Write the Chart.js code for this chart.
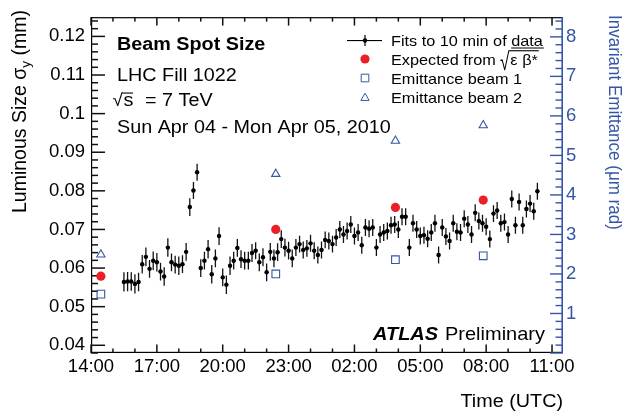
<!DOCTYPE html>
<html><head><meta charset="utf-8">
<script src="https://cdn.jsdelivr.net/npm/chart.js@4/dist/chart.umd.min.js"></script>
<style>html,body{margin:0;padding:0;background:#fff;overflow:hidden}canvas{display:block}</style>
</head><body>
<canvas id="c" width="624" height="413" style="width:624px;height:413px"></canvas>
<script>
// ---------------- data ----------------
const fitTimes = [
 "15:30","15:40","15:50",
 "16:00","16:10","16:20","16:30","16:40","16:50",
 "17:00","17:10","17:20","17:30","17:40","17:50",
 "18:00","18:10","18:20","18:30","18:40","18:50",
 "19:00","19:10","19:20","19:30","19:40","19:50",
 "20:00","20:10","20:20","20:30","20:40","20:50",
 "21:00","21:10","21:20","21:30","21:40","21:50",
 "22:00","22:10","22:20","22:30","22:40","22:50",
 "23:00","23:10","23:20","23:30","23:40","23:50",
 "00:00","00:10","00:20","00:30","00:40","00:50",
 "01:00","01:10","01:20","01:30","01:40","01:50",
 "02:00","02:10","02:20","02:30","02:40","02:50",
 "03:00","03:10","03:20","03:30","03:40","03:50",
 "04:00","04:10","04:20","04:30","04:40","04:50",
 "05:00","05:10","05:20","05:30","05:40","05:50",
 "06:00","06:10","06:20","06:30","06:40","06:50",
 "07:00","07:10","07:20","07:30","07:40","07:50",
 "08:00","08:10","08:20","08:30","08:40","08:50",
 "09:00","09:10","09:20","09:30","09:40","09:50",
 "10:00","10:10","10:20"
];
const fitSigma = [
 0.0564,0.0565,0.0565,0.0559,0.0564,0.0610,0.0629,0.0598,0.0619,0.0615,
 0.0591,0.0578,0.0653,0.0615,0.0609,0.0606,0.0610,0.0642,0.0758,0.0801,
 0.0848,0.0600,0.0619,0.0649,0.0584,0.0625,0.0683,0.0576,0.0557,0.0606,
 0.0619,0.0652,0.0623,0.0619,0.0619,0.0639,0.0645,0.0615,0.0628,0.0589,
 0.0642,0.0625,0.0641,0.0675,0.0653,0.0645,0.0625,0.0653,0.0662,0.0647,
 0.0651,0.0664,0.0645,0.0634,0.0647,0.0673,0.0670,0.0662,0.0679,0.0700,
 0.0687,0.0696,0.0713,0.0683,0.0692,0.0659,0.0705,0.0702,0.0705,0.0653,
 0.0687,0.0692,0.0696,0.0711,0.0713,0.0700,0.0733,0.0733,0.0653,0.0716,
 0.0700,0.0683,0.0685,0.0676,0.0692,0.0716,0.0634,0.0705,0.0682,0.0670,
 0.0716,0.0694,0.0692,0.0728,0.0713,0.0687,0.0743,0.0722,0.0716,0.0707,
 0.0675,0.0741,0.0749,0.0716,0.0719,0.0687,0.0779,0.0711,0.0771,0.0711,
 0.0753,0.0767,0.0747,0.0799
];
const fitSigmaErr = [
 0.0025,0.0025,0.0024,0.0025,0.0024,0.0024,0.0024,0.0023,0.0024,0.0024,
 0.0023,0.0024,0.0024,0.0023,0.0023,0.0024,0.0023,0.0023,0.0023,0.0022,
 0.0022,0.0023,0.0023,0.0024,0.0024,0.0023,0.0023,0.0023,0.0024,0.0024,
 0.0023,0.0023,0.0023,0.0023,0.0023,0.0023,0.0022,0.0023,0.0023,0.0023,
 0.0023,0.0023,0.0023,0.0023,0.0023,0.0023,0.0023,0.0022,0.0022,0.0022,
 0.0022,0.0022,0.0022,0.0022,0.0022,0.0022,0.0022,0.0022,0.0022,0.0022,
 0.0022,0.0022,0.0022,0.0022,0.0022,0.0022,0.0022,0.0022,0.0022,0.0022,
 0.0022,0.0022,0.0022,0.0022,0.0022,0.0022,0.0022,0.0022,0.0022,0.0022,
 0.0022,0.0022,0.0022,0.0022,0.0022,0.0022,0.0022,0.0022,0.0022,0.0022,
 0.0022,0.0022,0.0022,0.0022,0.0022,0.0022,0.0022,0.0022,0.0022,0.0022,
 0.0022,0.0022,0.0022,0.0022,0.0022,0.0022,0.0022,0.0022,0.0022,0.0022,
 0.0022,0.0022,0.0022,0.0022
];
const fitBinMinutes = 10;
const markerTimes = ["14:27","22:25","03:52","07:52"];
const expectedSigma = [0.0579, 0.0700, 0.0757, 0.0776];
const emittanceBeam1 = [1.49, 2.00, 2.36, 2.46];
const emittanceBeam2 = [2.49, 4.53, 5.37, 5.76];
const xTickLabels = ["14:00","17:00","20:00","23:00","02:00","05:00","08:00","11:00"];
const yTickLabels = ["0.04","0.05","0.06","0.07","0.08","0.09","0.1","0.11","0.12"];
const y2TickLabels = ["1","2","3","4","5","6","7","8"];
const legendLabels = ["Fits to 10 min of data","Expected from ","Emittance beam 1","Emittance beam 2"];

// ---------------- layout constants ----------------
const X_MIN = 0, X_MAX = 21.5;        // hours after 14:00
const Y_MIN = 0.038, Y_MAX = 0.125;    // mm
const Y2_MIN = 0, Y2_MAX = 8.5;        // um rad
const SX = 1.13;
const FONT = '"Liberation Sans", Arial, Helvetica, sans-serif';
const BLUE = '#3456a6';
const RED = '#ea1f27';
function toHours(s){const p=s.split(':');let t=+p[0]+(+p[1])/60-14;if(t<0)t+=24;return t;}

function sText(ctx,str,x,y,size,o={}){
  ctx.save();
  ctx.font=`${o.style||'normal'} ${o.weight||'normal'} ${size}px ${FONT}`;
  ctx.fillStyle=o.color||'#000';ctx.textBaseline='alphabetic';ctx.textAlign='left';
  const w=ctx.measureText(str).width*SX;
  const x0=x-(o.align==='right'?w:o.align==='center'?w/2:0);
  ctx.translate(x0,y);ctx.scale(SX,1);ctx.fillText(str,0,0);ctx.restore();
  return w;
}
function tw(ctx,str,size,o={}){ctx.save();ctx.font=`${o.style||'normal'} ${o.weight||'normal'} ${size}px ${FONT}`;const w=ctx.measureText(str).width*SX;ctx.restore();return w;}
function radical(ctx,x,top,bottom,width){
  ctx.save();ctx.font=`normal normal 100px ${FONT}`;ctx.textBaseline='alphabetic';ctx.textAlign='left';
  const m=ctx.measureText('\u221A');
  const asc=m.actualBoundingBoxAscent, des=m.actualBoundingBoxDescent;
  const bl=m.actualBoundingBoxLeft, br=m.actualBoundingBoxRight;
  const sy=(bottom-top)/(asc+des), sxx=width/(bl+br);
  ctx.fillStyle='#000';
  ctx.translate(x+bl*sxx, top+asc*sy);ctx.scale(sxx,sy);ctx.fillText('\u221A',0,0);
  ctx.restore();
}

function drawAxesTicks(chart){
  const ctx=chart.ctx, a=chart.chartArea, x=chart.scales.x, y=chart.scales.y;
  ctx.save();
  ctx.fillStyle='#000';
  ctx.fillRect(a.left,a.top,a.right-a.left,1.2);
  ctx.fillRect(a.left,a.bottom-1.2,a.right-a.left,1.2);
  ctx.fillRect(a.left,a.top,1.2,a.bottom-a.top);
  ctx.fillStyle='#111';
  for(let h=0;h<=21;h++){
    const px=x.getPixelForValue(h);
    const L=(h%3===0)?8.5:4.5;
    ctx.fillRect(px-0.75,a.bottom-L,1.5,L);
    ctx.fillRect(px-0.75,a.top,1.5,L);
  }
  for(let k=19;k<=62;k++){
    const py=y.getPixelForValue(k/500);
    const L=(k%5===0)?14:7;
    ctx.fillRect(a.left,py-0.75,L,1.5);
  }
  ctx.restore();
}

const framePlugin={
  id:'frame',
  beforeDatasetsDraw(chart){
    const ctx=chart.ctx, x=chart.scales.x, y=chart.scales.y;
    drawAxesTicks(chart);
    ctx.save();
    ctx.strokeStyle='#111';ctx.lineWidth=1.3;ctx.beginPath();
    const hw=fitBinMinutes/2/60;
    fitTimes.forEach((t,i)=>{
      const h=toHours(t);
      const px=x.getPixelForValue(h), py=y.getPixelForValue(fitSigma[i]);
      ctx.moveTo(px,y.getPixelForValue(fitSigma[i]-fitSigmaErr[i]));
      ctx.lineTo(px,y.getPixelForValue(fitSigma[i]+fitSigmaErr[i]));
      ctx.moveTo(x.getPixelForValue(h-hw),py);ctx.lineTo(x.getPixelForValue(h+hw),py);
    });
    ctx.stroke();ctx.restore();
  },
  afterDraw(chart){
    const ctx=chart.ctx, a=chart.chartArea, y2=chart.scales.y2;
    ctx.save();
    // right blue emittance axis
    ctx.fillStyle=BLUE;
    ctx.fillRect(a.right-1.6,a.top,1.6,a.bottom-a.top);
    for(let k=0;k<=42;k++){
      const py=y2.getPixelForValue(k/5);
      const L=(k%5===0)?13:7.5;
      ctx.fillRect(a.right-L,py-0.7,L,1.4);
    }

    // info text
    sText(ctx,"Beam Spot Size",117,50,17.5,{weight:'bold'});
    sText(ctx,"LHC Fill 1022",117,81,17.5);
    radical(ctx,113,92.5,106.5,10);
    sText(ctx,"s",123.5,106,17.5);
    ctx.fillStyle='#000';ctx.fillRect(122.5,92.5,10.5,1.1);
    sText(ctx,"= 7 TeV",145,106,17.5);
    sText(ctx,"Sun Apr 04 - Mon Apr 05, 2010",117,132.7,17.5);

    // legend
    const LX=365, TX=391, fs=14.4;
    const rows=[40,59,78,97];
    ctx.fillStyle='#000';
    ctx.fillRect(347,rows[0],35,1.1);
    ctx.fillRect(LX-0.6,rows[0]-5,1.2,11);
    ctx.beginPath();ctx.arc(LX,rows[0]+0.5,2.2,0,Math.PI*2);ctx.fill();
    sText(ctx,legendLabels[0],TX,46,fs);
    const pre=tw(ctx,"Fits to 10 min of ",fs), dw=tw(ctx,"data",fs);
    ctx.fillStyle='#000';ctx.fillRect(TX+pre,47.5,dw+1,1);
    ctx.fillStyle=RED;ctx.beginPath();ctx.arc(LX,rows[1],4.6,0,Math.PI*2);ctx.fill();
    const we=sText(ctx,legendLabels[1],TX,65,fs);
    radical(ctx,TX+we,50.5,70,9);
    const wb=sText(ctx,"\u03B5 \u03B2*",TX+we+10,65,fs);
    ctx.fillStyle='#000';ctx.fillRect(TX+we+8,50.2,wb+3,1.1);
    ctx.strokeStyle=BLUE;ctx.fillStyle='rgba(0,0,0,0)';
    Chart.helpers.drawPoint(ctx,{pointStyle:'rect',radius:5.4,borderWidth:1.1,rotation:0},LX,rows[2]);
    Chart.helpers.drawPoint(ctx,{pointStyle:'triangle',radius:4.8,borderWidth:1.1,rotation:0},LX,rows[3]+1);
    sText(ctx,legendLabels[2],TX,84,fs);
    sText(ctx,legendLabels[3],TX,103,fs);

    // ATLAS label
    sText(ctx,"ATLAS",373,340,17.7,{weight:'bold',style:'italic'});
    sText(ctx,"Preliminary",445,340,17.7);

    // axis titles
    sText(ctx,"Time (UTC)",563,407,17.5,{align:'right'});
    ctx.save();
    const f1=`normal normal 19.5px ${FONT}`, f2=`normal normal 13.5px ${FONT}`;
    ctx.font=f1;const a1=ctx.measureText("Luminous Size \u03C3").width;const a3=ctx.measureText(" (mm)").width;
    ctx.font=f2;const a2=ctx.measureText("y").width;
    const total=a1+a2+a3;
    ctx.translate(26,10+total);ctx.rotate(-Math.PI/2);
    ctx.fillStyle='#000';ctx.textBaseline='alphabetic';
    ctx.font=f1;ctx.fillText("Luminous Size \u03C3",0,0);
    ctx.font=f2;ctx.fillText("y",a1,4);
    ctx.font=f1;ctx.fillText(" (mm)",a1+a2,0);
    ctx.restore();
    ctx.save();
    ctx.translate(608.5,15);ctx.rotate(Math.PI/2);ctx.scale(1,SX);
    ctx.fillStyle=BLUE;ctx.font=`normal normal 17px ${FONT}`;ctx.textBaseline='alphabetic';
    ctx.fillText("Invariant Emittance (\u03BCm rad)",0,0);
    ctx.restore();
    ctx.restore();
  }
};

const tickFont={family:FONT,size:18.5};
const chart=new Chart(document.getElementById('c'),{
  type:'scatter',
  data:{datasets:[
    {label:legendLabels[0],data:fitTimes.map((t,i)=>({x:toHours(t),y:fitSigma[i]})),
     pointRadius:2.2,pointBackgroundColor:'#000',pointBorderWidth:0,yAxisID:'y',order:1},
    {label:legendLabels[1],data:markerTimes.map((t,i)=>({x:toHours(t),y:expectedSigma[i]})),
     pointRadius:4.6,pointBackgroundColor:RED,pointBorderWidth:0,yAxisID:'y',order:0},
    {label:legendLabels[2],data:markerTimes.map((t,i)=>({x:toHours(t),y:emittanceBeam1[i]})),
     pointStyle:'rect',pointRadius:5.4,pointBackgroundColor:'rgba(0,0,0,0)',pointBorderColor:BLUE,pointBorderWidth:1.1,yAxisID:'y2',order:0},
    {label:legendLabels[3],data:markerTimes.map((t,i)=>({x:toHours(t),y:emittanceBeam2[i]})),
     pointStyle:'triangle',pointRadius:4.8,pointBackgroundColor:'rgba(0,0,0,0)',pointBorderColor:BLUE,pointBorderWidth:1.1,yAxisID:'y2',order:0}
  ]},
  options:{
    responsive:false,animation:false,devicePixelRatio:1,
    layout:{padding:{top:12,left:0,right:0,bottom:0}},
    plugins:{legend:{display:false},tooltip:{enabled:false}},
    scales:{
      x:{type:'linear',position:'bottom',min:X_MIN,max:X_MAX,
        afterBuildTicks:s=>{s.ticks=xTickLabels.map(l=>({value:toHours(l)}));},
        afterFit:s=>{s.height=60;},
        grid:{display:false,drawTicks:false,tickLength:0},border:{display:false},
        ticks:{font:tickFont,color:'#000',padding:3,maxRotation:0,autoSkip:false,
          callback:(v)=>{const i=xTickLabels.findIndex(l=>Math.abs(toHours(l)-v)<1e-6);return i>=0?xTickLabels[i]:'';}}},
      y:{type:'linear',position:'left',min:Y_MIN,max:Y_MAX,
        afterBuildTicks:s=>{s.ticks=yTickLabels.map(l=>({value:parseFloat(l)}));},
        afterFit:s=>{s.width=91;},
        grid:{display:false,drawTicks:false,tickLength:0},border:{display:false},
        ticks:{font:tickFont,color:'#000',padding:6,autoSkip:false,
          callback:(v)=>{const i=yTickLabels.findIndex(l=>Math.abs(parseFloat(l)-v)<1e-9);return i>=0?yTickLabels[i]:'';}}},
      y2:{type:'linear',position:'right',min:Y2_MIN,max:Y2_MAX,
        afterBuildTicks:s=>{s.ticks=y2TickLabels.map(l=>({value:parseFloat(l)}));},
        afterFit:s=>{s.width=61;},
        grid:{display:false,drawTicks:false,tickLength:0},border:{display:false},
        ticks:{font:tickFont,color:BLUE,padding:3,autoSkip:false,
          callback:(v)=>{const i=y2TickLabels.findIndex(l=>Math.abs(parseFloat(l)-v)<1e-9);return i>=0?y2TickLabels[i]:'';}}}
    }
  },
  plugins:[framePlugin]
});
</script>
</body></html>
